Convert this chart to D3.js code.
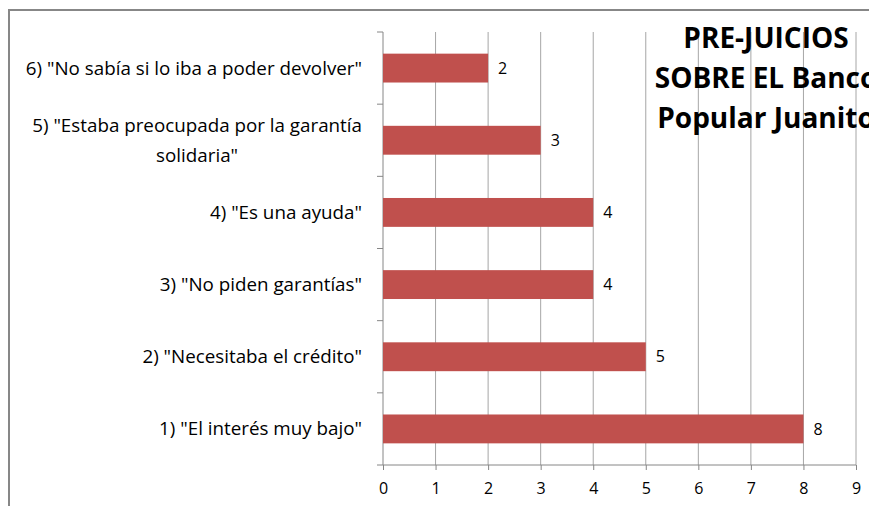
<!DOCTYPE html>
<html>
<head>
<meta charset="utf-8">
<script src="https://cdn.jsdelivr.net/npm/d3@7"></script>
<style>
  body { margin: 0; background: #fff; }
  svg text { font-family: "Open Sans", sans-serif; fill: #000; }
</style>
</head>
<body>
<div id="chart"></div>
<script>
const width = 869, height = 506;

// data, top to bottom as drawn
const categories = ["6", "5", "4", "3", "2", "1"];
const labels = [
  ['6) "No sabía si lo iba a poder devolver"'],
  ['5) "Estaba preocupada por la garantía', 'solidaria"'],
  ['4) "Es una ayuda"'],
  ['3) "No piden garantías"'],
  ['2) "Necesitaba el crédito"'],
  ['1) "El interés muy bajo"']
];
const values = [2, 3, 4, 4, 5, 8];
const xTicks = [0, 1, 2, 3, 4, 5, 6, 7, 8, 9];
const titleLines = ["PRE-JUICIOS", "SOBRE EL Banco", "Popular Juanito"];

const plot = {left: 383, right: 856, top: 32, bottom: 465};

let svg = d3.select("#chart")
    .append("svg")
    .attr("width", width)
    .attr("height", height);

// outer frame (only top and left edges are visible)
svg.append("rect")
    .attr("x", 9).attr("y", 10)
    .attr("width", 900).attr("height", 600)
    .attr("fill", "none")
    .attr("stroke", "#878787")
    .attr("stroke-width", 2);

let x = d3.scaleLinear()
    .domain([0, 9])
    .range([plot.left, plot.right]);

let y = d3.scaleBand()
    .domain(categories)
    .range([plot.top, plot.bottom])
    .paddingInner(0.6)
    .paddingOuter(0.3);

// vertical gridlines
svg.append("g")
    .selectAll("line")
    .data(xTicks.slice(1))
    .enter()
    .append("line")
    .attr("x1", d => x(d)).attr("x2", d => x(d))
    .attr("y1", plot.top).attr("y2", plot.bottom)
    .attr("stroke", "#a6a6a6")
    .attr("stroke-width", 1);

// x axis
let xAxis = svg.append("g")
    .attr("transform", `translate(0, ${plot.bottom})`)
    .call(d3.axisBottom(x).tickValues(xTicks).tickFormat(d3.format("d")).tickSize(5).tickPadding(13));
xAxis.select(".domain").attr("stroke", "#868686").attr("d", `M${plot.left},0H${plot.right}`);
xAxis.selectAll(".tick line").attr("stroke", "#868686");
xAxis.selectAll(".tick text").style("font-size", "16px").attr("fill", "#000");

// y axis line and category ticks
svg.append("line")
    .attr("x1", x(0)).attr("x2", x(0))
    .attr("y1", plot.top).attr("y2", plot.bottom)
    .attr("stroke", "#868686");

let edges = categories.map(c => y(c) - y.step() * y.paddingInner() / 2);
edges.push(plot.bottom);
svg.append("g")
    .selectAll("line")
    .data(edges)
    .enter()
    .append("line")
    .attr("x1", x(0) - 6).attr("x2", x(0))
    .attr("y1", d => d).attr("y2", d => d)
    .attr("stroke", "#868686");

// bars
svg.append("g")
    .selectAll("rect")
    .data(values)
    .enter()
    .append("rect")
    .attr("x", x(0))
    .attr("y", (d, i) => y(categories[i]))
    .attr("width", d => x(d) - x(0))
    .attr("height", y.bandwidth())
    .attr("fill", "#c0504d");

// value labels
svg.append("g")
    .selectAll("text")
    .data(values)
    .enter()
    .append("text")
    .attr("x", d => x(d) + 10)
    .attr("y", (d, i) => y(categories[i]) + y.bandwidth() / 2)
    .attr("dy", "0.35em")
    .style("font-size", "16px")
    .text(d => d);

// category labels
let catLabels = svg.append("g");
labels.forEach(function(lines, i) {
    let cy = y(categories[i]) + y.bandwidth() / 2;
    if (lines.length == 1) {
        catLabels.append("text")
            .attr("x", 362)
            .attr("y", cy)
            .attr("dy", "0.35em")
            .style("text-anchor", "end")
            .style("font-size", "18.8px")
            .text(lines[0]);
    } else {
        let g = catLabels.append("g");
        let t = lines.map((l, j) => g.append("text")
            .attr("y", cy + (j - (lines.length - 1) / 2) * 30)
            .attr("dy", "0.35em")
            .style("text-anchor", "middle")
            .style("font-size", "18.8px")
            .text(l));
        let w = d3.max(t, s => s.node().getComputedTextLength());
        t.forEach(s => s.attr("x", 362 - w / 2));
    }
});

// title
svg.append("g")
    .selectAll("text")
    .data(titleLines)
    .enter()
    .append("text")
    .attr("x", 766)
    .attr("y", (d, i) => 48 + i * 40)
    .style("text-anchor", "middle")
    .style("font-size", "28px")
    .style("font-weight", "bold")
    .text(d => d);
</script>
</body>
</html>
